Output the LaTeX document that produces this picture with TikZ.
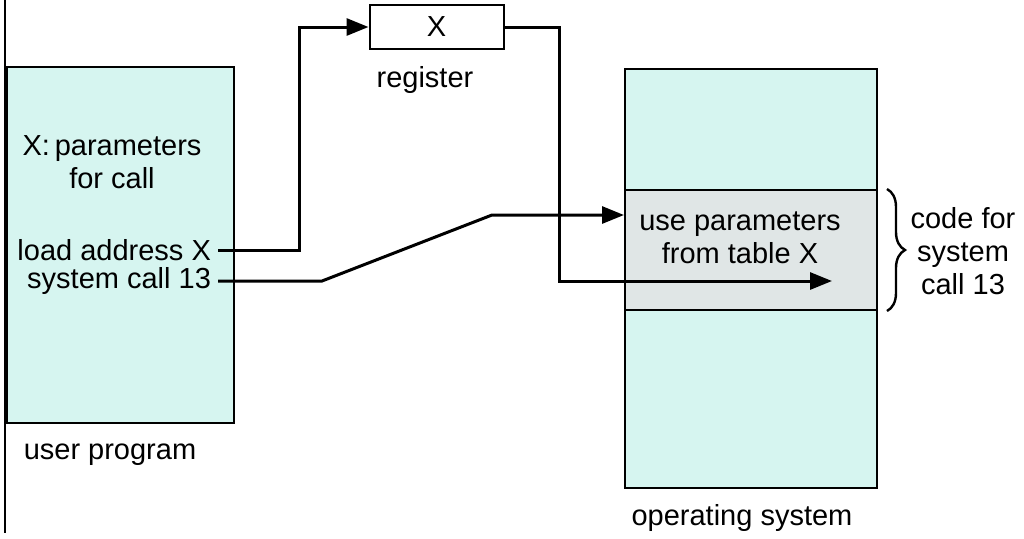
\documentclass[tikz,border=0pt]{standalone}
\usepackage{fontspec}
\setmainfont{Liberation Sans}
\usetikzlibrary{arrows.meta,decorations.pathreplacing}
\definecolor{memcyan}{RGB}{214,245,240}
\definecolor{memgray}{RGB}{224,230,230}
\tikzset{
  every node/.style={font=\fontsize{14.5}{16.5}\selectfont},
  mem/.style={draw, line width=1pt, fill=memcyan, inner sep=0pt},
  call/.style={draw, line width=1.5pt, -{Triangle[length=11pt,width=8.5pt]}}
}
\begin{document}
\begin{tikzpicture}[x=0.5pt,y=-0.5pt]
\useasboundingbox (0,0) rectangle (1024,538);
\draw[line width=0.7pt] (5,0) -- (5,533);

\node[mem, minimum width=113.5pt, minimum height=178pt] (user) at (120.5,245) {};
\node[mem, fill=white, minimum width=67pt, minimum height=22pt] (reg) at (436.5,27) {X};
\node[mem, minimum width=126pt, minimum height=209.5pt] (os) at (751,278.5) {};
\node[mem, fill=memgray, minimum width=126pt, minimum height=60pt] (table) at (751,250) {};

\node[align=center] (params) at (112,162) {X:\,parameters\\for call};
\node[anchor=east] (load) at (218,250) {load address X};
\node[anchor=east] (sys) at (218,281) {system call 13};
\node (userlbl) at (110,455) {user program};
\node (reglbl) at (425,80) {register};
\node[align=center] (use) at (740,238) {use parameters\\from table X};
\node (oslbl) at (742,518) {operating system};

\coordinate (in) at (table.west |- 0,215);
\coordinate (tip) at (832,281);

\path[call] (load.east) -- (299,250) |- (reg.west);
\path[call] (sys.east) -- (322,281) -- (492,215) -- (in);
\path[call] (reg.east) -| (559,281) -- (tip);

\draw[line width=1.2pt, decorate, decoration={brace,amplitude=9pt}]
  ([xshift=4.5pt]table.north east) -- ([xshift=4.5pt]table.south east);
\node[align=center] (code) at (963,251) {code for\\system\\call 13};
\end{tikzpicture}
\end{document}
